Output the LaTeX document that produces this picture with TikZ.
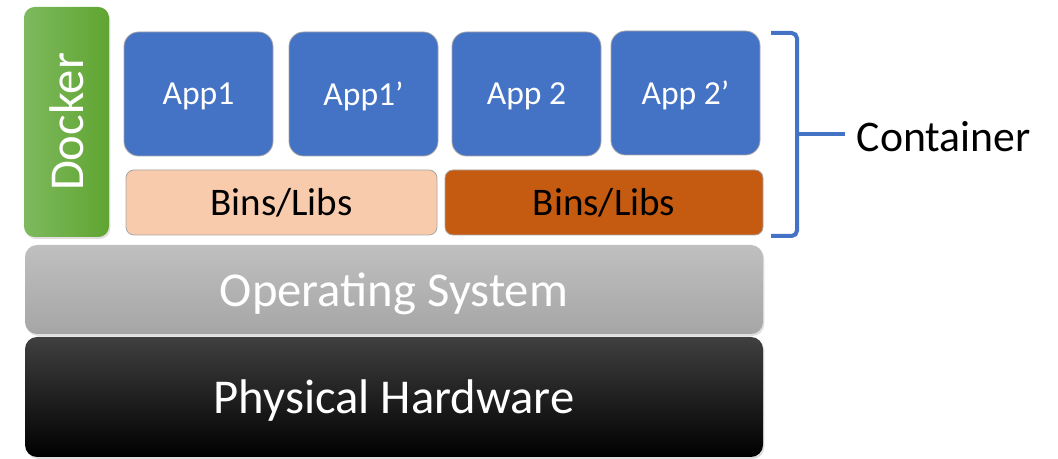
\documentclass[tikz,border=0pt]{standalone}
\usepackage{fontspec}
\setmainfont{Carlito}
\usepackage{xcolor}
\usepackage{tikz}
\usetikzlibrary{arrows.meta, positioning, shadows}
\definecolor{appblue}{HTML}{4472C4}
\definecolor{libslight}{HTML}{F8CBAD}
\definecolor{libsdark}{HTML}{C55A11}
\definecolor{bracketblue}{HTML}{4472C4}
\definecolor{dockerlight}{HTML}{7DB95E}
\definecolor{dockerdark}{HTML}{60A531}

\begin{document}
\begin{tikzpicture}[x=0.75pt, y=-0.75pt]
	\useasboundingbox (0,0) rectangle (1058,459);
	\tikzset{
		app/.style={fill=appblue, draw=gray!70, line width=0.6pt, rounded corners=11pt, minimum width=111.75pt, minimum height=93pt, inner sep=0pt, text=white, text depth=0pt, font=\fontsize{25.2}{30}\selectfont},
		libs/.style={draw=gray!70, line width=0.6pt, rounded corners=6pt, minimum height=48.75pt, inner sep=0pt, font=\fontsize{29.3}{34}\selectfont},
		layer/.style={rounded corners=9pt, minimum width=553.5pt, inner sep=0pt, text=white, text depth=0pt, drop shadow={opacity=0.25, shadow xshift=1pt, shadow yshift=-1.5pt}, font=\fontsize{36.5}{42}\selectfont}
	}
	% hardware and operating system
	\node[layer, minimum height=90pt, top color=black!75, middle color=black, bottom color=black] (hw) at (394,397) {Physical Hardware};
	\node[layer, minimum height=66.75pt, top color=black!25, bottom color=black!35] (os) at (394,289.5) {Operating System};
	% docker engine
	\node[rounded corners=8pt, minimum width=172.5pt, minimum height=63.75pt, inner sep=0pt, left color=dockerlight, right color=dockerdark, drop shadow={opacity=0.25, shadow xshift=1pt, shadow yshift=-1.5pt}, text=white, rotate=90, font=\fontsize{36.5}{42}\selectfont] (docker) at (66.5,122) {Docker};
	% apps
	\node[app] (app1) at (198.5,94) {App1};
	\node[app] (app1b) at (363.5,94) {App1’};
	\node[app] (app2) at (526.5,94) {App 2};
	\node[app] (app2b) at (685.5,93) {App 2’};
	% libraries
	\node[libs, fill=libslight, minimum width=233.25pt] (libs1) at (281.5,202.5) {Bins/Libs};
	\node[libs, fill=libsdark, minimum width=238.5pt] (libs2) at (604,202.5) {Bins/Libs};
	% bracket
	\coordinate (btop) at (771,33);
	\coordinate (bbot) at (771,236);
	\coordinate (bmid) at (797,134);
	\coordinate (btick) at (845,134);
	\node[anchor=west, font=\fontsize{32.8}{38}\selectfont] (container) at (852,137) {Container};
	\draw[bracketblue, line width=3pt, rounded corners=4pt] (btop) -- (btop -| bmid) -- (bbot -| bmid) -- (bbot);
	\draw[bracketblue, line width=3pt] (bmid) -- (btick);
\end{tikzpicture}
\end{document}
